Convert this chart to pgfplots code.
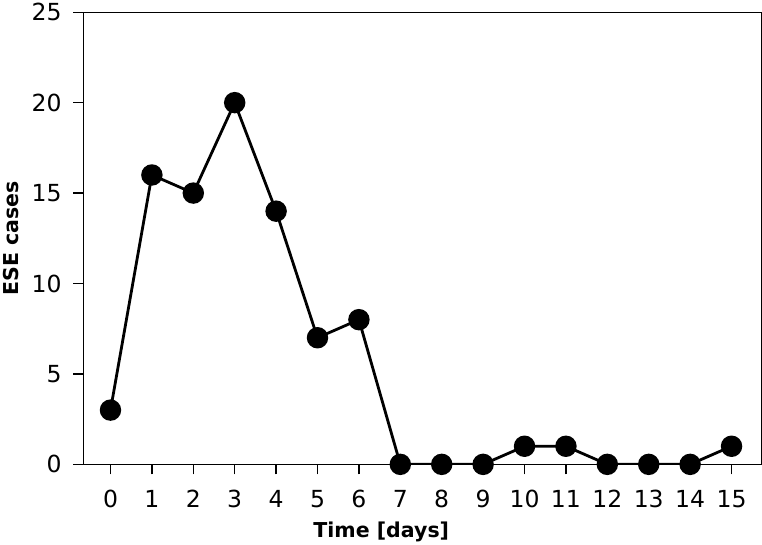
\documentclass[border=0pt]{standalone}
\usepackage{pgfplots}
\pgfplotsset{compat=1.18}
\usepackage{fontspec}
\setmainfont{DejaVu Sans}
\begin{document}
\begin{tikzpicture}
\begin{axis}[
  scale only axis,
  width=678pt, height=452pt,
  xmin=-0.66, xmax=15.72, ymin=0, ymax=25,
  xtick={0,...,15}, ytick={0,5,...,25},
  tick align=outside, major tick length=10pt,
  tick style={line width=1.3pt, black},
  axis line style={line width=1.3pt},
  xtick pos=bottom, ytick pos=left,
  /pgf/number format/assume math mode=true,
  ticklabel style={font=\fontsize{23.5}{25}\selectfont},
  xticklabel style={yshift=-12pt},
  yticklabel style={xshift=-8pt},
  xlabel={Time [days]}, ylabel={ESE cases},
  label style={font=\fontsize{20.5}{24}\selectfont\bfseries},
  xlabel style={yshift=-7pt, xshift=-41pt},
  ylabel style={yshift=6pt},
]
\addplot[black, line width=2.8pt, mark=*, mark size=9.3pt] coordinates {
(0,3) (1,16) (2,15) (3,20) (4,14) (5,7) (6,8) (7,0) (8,0) (9,0) (10,1) (11,1) (12,0) (13,0) (14,0) (15,1)
};
\end{axis}
\end{tikzpicture}
\end{document}
